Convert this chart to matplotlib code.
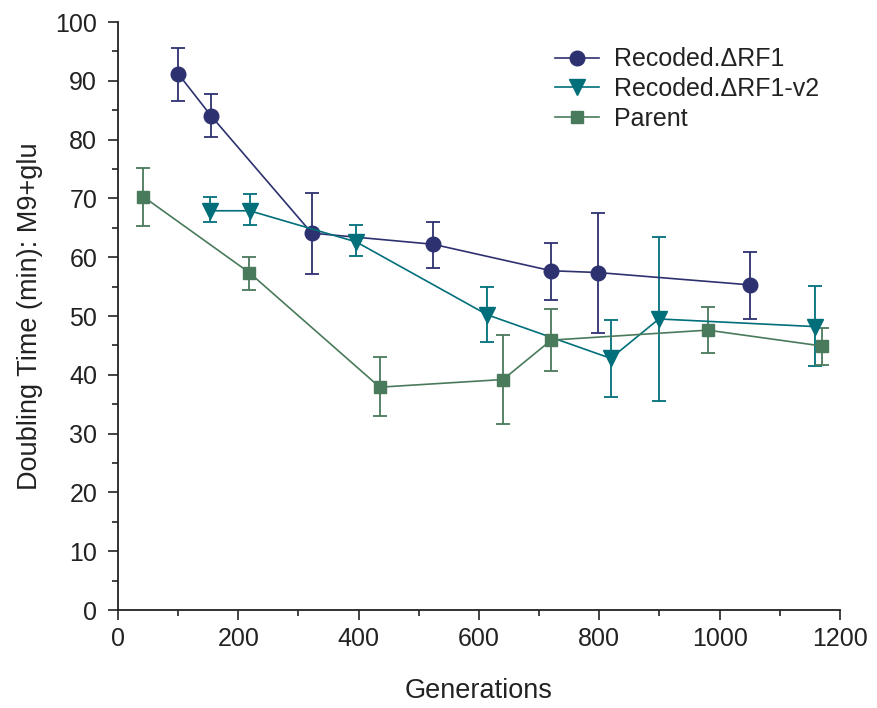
import matplotlib
matplotlib.use("Agg")
import matplotlib.pyplot as plt
from matplotlib.ticker import MultipleLocator
from matplotlib.lines import Line2D

plt.rcParams['font.family'] = ['Liberation Sans', 'DejaVu Sans']

# Recoded.ΔRF1
rf1_x = [100, 155, 322, 524, 720, 797, 1050]
rf1_y = [91.2, 84.0, 64.1, 62.2, 57.7, 57.4, 55.3]
rf1_hi = [95.6, 87.8, 70.9, 66.0, 62.5, 67.6, 60.9]
rf1_lo = [86.6, 80.4, 57.1, 58.2, 52.8, 47.1, 49.5]

# Recoded.ΔRF1-v2
v2_x = [153, 219, 396, 614, 819, 899, 1159]
v2_y = [67.9, 67.9, 62.6, 50.2, 42.8, 49.5, 48.2]
v2_hi = [70.3, 70.7, 65.5, 54.9, 49.4, 63.5, 55.1]
v2_lo = [66.0, 65.4, 60.2, 45.5, 36.3, 35.6, 41.5]

# Parent
par_x = [42, 218, 435, 640, 720, 980, 1170]
par_y = [70.3, 57.4, 37.9, 39.2, 45.9, 47.6, 44.9]
par_hi = [75.2, 60.1, 43.0, 46.8, 51.2, 51.6, 48.0]
par_lo = [65.3, 54.5, 33.0, 31.6, 40.6, 43.7, 41.7]

labels = ['Recoded.ΔRF1', 'Recoded.ΔRF1-v2', 'Parent']

c_rf1 = '#2e3170'
c_v2 = '#006f7a'
c_par = '#4a7a5c'
txt = '#222222'

fig = plt.figure(figsize=(8.78, 7.08), dpi=100)
ax = fig.add_axes([0.1344, 0.1384, 0.8223, 0.8305])

handles = []
def plot_series(x, y, hi, lo, color, marker, ms, label):
    yerr = [[yy - l for yy, l in zip(y, lo)], [h - yy for yy, h in zip(y, hi)]]
    ax.errorbar(x, y, yerr=yerr, color=color, marker=marker, markersize=ms,
                linewidth=1.2, elinewidth=1.3, capsize=5, capthick=1.3,
                markeredgecolor=color)
    handles.append(Line2D([], [], color=color, marker=marker, markersize=ms,
                          linewidth=1.2, markeredgecolor=color, label=label))

plot_series(rf1_x, rf1_y, rf1_hi, rf1_lo, c_rf1, 'o', 10.5, labels[0])
plot_series(v2_x, v2_y, v2_hi, v2_lo, c_v2, 'v', 11, labels[1])
plot_series(par_x, par_y, par_hi, par_lo, c_par, 's', 8.5, labels[2])

ax.set_xlim(0, 1200)
ax.set_ylim(0, 100)
ax.xaxis.set_major_locator(MultipleLocator(200))
ax.xaxis.set_minor_locator(MultipleLocator(100))
ax.yaxis.set_major_locator(MultipleLocator(10))
ax.yaxis.set_minor_locator(MultipleLocator(5))
for s in ['top', 'right']:
    ax.spines[s].set_visible(False)
for s in ['left', 'bottom']:
    ax.spines[s].set_linewidth(1.3)
    ax.spines[s].set_color(txt)
ax.tick_params(which='major', direction='out', length=7, width=1.2, labelsize=18, colors=txt, pad=5)
ax.tick_params(which='minor', direction='out', length=4, width=1.2, colors=txt)
ax.tick_params(axis='y', which='major', pad=8)

ax.set_xlabel('Generations', fontsize=19.5, color=txt, labelpad=20)
ax.set_ylabel('Doubling Time (min): M9+glu', fontsize=19.5, color=txt, labelpad=9)

leg = ax.legend(handles=handles, loc='upper left', frameon=False, fontsize=18,
                handlelength=1.75, bbox_to_anchor=(0.605, 0.957), borderaxespad=0,
                borderpad=0, labelspacing=0.23, handletextpad=0.6)
for t in leg.get_texts():
    t.set_color(txt)

fig.savefig('out.png', dpi=100)
